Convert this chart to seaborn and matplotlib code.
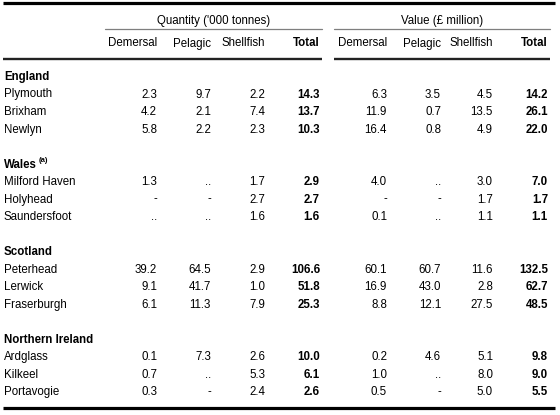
import matplotlib
matplotlib.use("Agg")
import matplotlib.pyplot as plt
import seaborn as sns

# Table content
groups = ["England", "Wales", "Scotland", "Northern Ireland"]
ports = [
    ["Plymouth", "Brixham", "Newlyn"],
    ["Milford Haven", "Holyhead", "Saundersfoot"],
    ["Peterhead", "Lerwick", "Fraserburgh"],
    ["Ardglass", "Kilkeel", "Portavogie"],
]
species = ["Demersal", "Pelagic", "Shellfish"]

# '..' = not available / negligible, '-' = nil
qty_demersal = [2.3, 4.2, 5.8, 1.3, "-", "..", 39.2, 9.1, 6.1, 0.1, 0.7, 0.3]
qty_pelagic = [9.7, 2.1, 2.2, "..", "-", "..", 64.5, 41.7, 11.3, 7.3, "..", "-"]
qty_shellfish = [2.2, 7.4, 2.3, 1.7, 2.7, 1.6, 2.9, 1.0, 7.9, 2.6, 5.3, 2.4]
qty_total = [14.3, 13.7, 10.3, 2.9, 2.7, 1.6, 106.6, 51.8, 25.3, 10.0, 6.1, 2.6]

val_demersal = [6.3, 11.9, 16.4, 4.0, "-", 0.1, 60.1, 16.9, 8.8, 0.2, 1.0, 0.5]
val_pelagic = [3.5, 0.7, 0.8, "..", "-", "..", 60.7, 43.0, 12.1, 4.6, "..", "-"]
val_shellfish = [4.5, 13.5, 4.9, 3.0, 1.7, 1.1, 11.6, 2.8, 27.5, 5.1, 8.0, 5.0]
val_total = [14.2, 26.1, 22.0, 7.0, 1.7, 1.1, 132.5, 62.7, 48.5, 9.8, 9.0, 5.5]

columns = [qty_demersal, qty_pelagic, qty_shellfish, qty_total,
           val_demersal, val_pelagic, val_shellfish, val_total]

sns.set_theme(style="white")
plt.rcParams['font.family'] = ['Liberation Sans', 'DejaVu Sans']

fig = plt.figure(figsize=(5.6, 4.15), dpi=100)
ax = fig.add_axes([0, 0, 1, 1])
ax.set_xlim(0, 560)
ax.set_ylim(415, 0)
ax.axis('off')

txt = '#000000'
fs = 8.3
col_x = [157, 211, 265, 320, 387, 441, 493, 548]
col_bold = [False, False, False, True, False, False, False, True]

# rules
ax.plot([3, 555], [3.5, 3.5], color='black', lw=2.3, solid_capstyle='butt')
ax.plot([105, 322], [29, 29], color='#7f7f7f', lw=0.9)
ax.plot([334, 550], [29, 29], color='#7f7f7f', lw=0.9)
ax.plot([3, 322], [59, 59], color='#222222', lw=1.7, solid_capstyle='butt')
ax.plot([334, 550], [59, 59], color='#222222', lw=1.7, solid_capstyle='butt')
ax.plot([3, 555], [408, 408], color='black', lw=2.3, solid_capstyle='butt')

# headers
ax.text(213.5, 21, "Quantity ('000 tonnes)", ha='center', va='center', fontsize=fs, color=txt)
ax.text(442, 21, "Value (£ million)", ha='center', va='center', fontsize=fs, color=txt)
headers = species + ["Total"] + species + ["Total"]
for x, h, b in zip(col_x, headers, col_bold):
    ax.text(x, 43.5, h, ha='right', va='center', fontsize=fs, color=txt,
            fontweight='bold' if b else 'normal')

# body
y0, pitch = 77, 17.5
row = 0
k = 0
for g, plist in zip(groups, ports):
    y = y0 + row * pitch
    ax.text(4, y, g, ha='left', va='center', fontsize=fs, color=txt, fontweight='bold')
    if g == "Wales":
        ax.text(39, y - 4, "(a)", ha='left', va='center', fontsize=5.5, color=txt, fontweight='bold')
    row += 1
    for p in plist:
        y = y0 + row * pitch
        ax.text(4, y, p, ha='left', va='center', fontsize=fs, color=txt)
        for x, col, b in zip(col_x, columns, col_bold):
            v = col[k]
            s = f"{v:.1f}" if isinstance(v, float) else v
            ax.text(x, y, s, ha='right', va='center', fontsize=fs, color=txt,
                    fontweight='bold' if b else 'normal')
        row += 1
        k += 1
    row += 1

fig.savefig('out.png', dpi=100, facecolor='white')
